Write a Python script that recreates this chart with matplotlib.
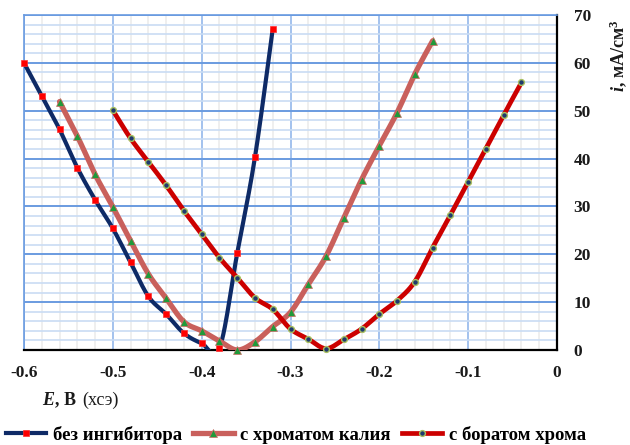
import numpy as np
import matplotlib
matplotlib.use("Agg")
import matplotlib.pyplot as plt
from matplotlib.lines import Line2D
from matplotlib.ticker import MultipleLocator, FuncFormatter
from matplotlib.offsetbox import TextArea, HPacker, AnnotationBbox

plt.rcParams["font.family"] = ["Liberation Serif", "DejaVu Serif"]
plt.rcParams["mathtext.fontset"] = "custom"
plt.rcParams["mathtext.rm"] = "Liberation Serif"
plt.rcParams["mathtext.it"] = "Liberation Serif:italic"
plt.rcParams["mathtext.bf"] = "Liberation Serif:bold"
plt.rcParams["mathtext.bfit"] = "Liberation Serif:bold:italic"

# Potential, V (vs. silver chloride electrode) and current density, mA/cm^3
e_blank = [-0.60, -0.58, -0.56, -0.54, -0.52, -0.50, -0.48, -0.46, -0.44,
           -0.42, -0.40, -0.38, -0.36, -0.34, -0.32]
i_blank = [60.0, 53.1, 46.1, 38.1, 31.4, 25.4, 18.3, 11.2, 7.5,
           3.5, 1.4, 0.35, 20.2, 40.3, 67.1]

e_chromate = [-0.56, -0.54, -0.52, -0.50, -0.48, -0.46, -0.44, -0.42, -0.40,
              -0.38, -0.36, -0.34, -0.32, -0.30, -0.28, -0.26, -0.24, -0.22,
              -0.20, -0.18, -0.16, -0.14]
i_chromate = [51.9, 44.7, 36.7, 29.9, 22.8, 15.9, 10.8, 5.9, 4.0,
              1.9, 0.0, 1.7, 4.9, 7.9, 13.7, 19.6, 27.6, 35.6,
              42.7, 49.6, 57.7, 64.6]

e_borate = [-0.50, -0.48, -0.46, -0.44, -0.42, -0.40, -0.38, -0.36, -0.34,
            -0.32, -0.30, -0.28, -0.26, -0.24, -0.22, -0.20, -0.18, -0.16,
            -0.14, -0.12, -0.10, -0.08, -0.06, -0.04]
i_borate = [50.1, 44.2, 39.3, 34.4, 29.1, 24.2, 19.3, 15.1, 10.9,
            8.5, 4.4, 2.3, 0.3, 2.2, 4.4, 7.5, 10.3, 14.3,
            21.4, 28.2, 35.2, 42.1, 49.1, 55.9]

labels = ["без ингибитора", "с хроматом калия", "с боратом хрома"]
x_ticks = [-0.6, -0.5, -0.4, -0.3, -0.2, -0.1, 0.0]
y_ticks = [0, 10, 20, 30, 40, 50, 60, 70]


def smooth(xs, ys, n=24):
    """Cubic Bezier smoothing through the points (spreadsheet-style)."""
    p = np.column_stack([xs, ys]).astype(float)
    out = []
    t = np.linspace(0, 1, n)[:, None]
    for k in range(len(p) - 1):
        p0 = p[k - 1] if k > 0 else p[k]
        p1, p2 = p[k], p[k + 1]
        p3 = p[k + 2] if k + 2 < len(p) else p[k + 1]
        c1 = p1 + (p2 - p0) / 6.0
        c2 = p2 - (p3 - p1) / 6.0
        seg = ((1 - t) ** 3) * p1 + 3 * ((1 - t) ** 2) * t * c1 \
            + 3 * (1 - t) * t ** 2 * c2 + t ** 3 * p2
        out.append(seg if k == 0 else seg[1:])
    seg = np.vstack(out)
    return seg[:, 0], seg[:, 1]


fig = plt.figure(figsize=(6.3, 4.45), dpi=100)
ax = fig.add_axes([24 / 630, 1 - 350 / 445, 533 / 630, 335 / 445])

ax.set_xlim(-0.6, 0.0)
ax.set_ylim(0, 70)
ax.xaxis.set_minor_locator(MultipleLocator(0.02))
ax.yaxis.set_minor_locator(MultipleLocator(2))
ax.set_xticks(x_ticks)
ax.set_yticks(y_ticks)

# grid: horizontal lines bluer than vertical ones
ax.grid(axis="y", which="minor", color="#c9dcf4", lw=1.2, zorder=0)
ax.grid(axis="x", which="minor", color="#ececec", lw=1.2, zorder=0)
ax.grid(axis="y", which="major", color="#6a9be0", lw=1.4, zorder=0)
ax.grid(axis="x", which="major", color="#a3c2ee", lw=1.4, zorder=0)
ax.set_axisbelow(True)

for side in ("left", "top"):
    ax.spines[side].set_color("#6a9be0")
    ax.spines[side].set_linewidth(1.2)
for side in ("right", "bottom"):
    ax.spines[side].set_color("black")
    ax.spines[side].set_linewidth(1.6)

ax.yaxis.tick_right()
ax.tick_params(which="both", length=0)
ax.tick_params(axis="x", pad=11)
ax.tick_params(axis="y", pad=12)
tick_font = dict(family="Liberation Serif", weight="bold", size=12.5)
ax.xaxis.set_major_formatter(FuncFormatter(lambda v, p: "0" if abs(v) < 1e-9 else f"{v:.1f}"))
for lab in ax.get_xticklabels() + ax.get_yticklabels():
    lab.set_fontproperties(tick_font)
    lab.set_color("#1a1a1a")

styles = [
    dict(color="#0e2a66", lw=3.0, marker="s", ms=4.6, mfc="#ff0000", mec="#ff3030", mew=0.5),
    dict(color="#c9605c", lw=3.8, marker="^", ms=5.6, mfc="#1f9a3a", mec="#d06a66", mew=0.5),
    dict(color="#cc0000", lw=3.4, marker="o", ms=4.2, mfc="#1f3a6e", mec="#a8c060", mew=1.0),
]
series = [(e_blank, i_blank), (e_chromate, i_chromate), (e_borate, i_borate)]
handles = []
for (xs, ys), st, lab in zip(series, styles, labels):
    sx, sy = smooth(xs, ys)
    ax.plot(sx, sy, color=st["color"], lw=st["lw"], solid_capstyle="round", zorder=3)
    ax.plot(xs, ys, ls="none", marker=st["marker"], ms=st["ms"], mfc=st["mfc"],
            mec=st["mec"], mew=st["mew"], zorder=4, clip_on=False)
    handles.append(Line2D([], [], color=st["color"], lw=st["lw"], marker=st["marker"],
                          ms=st["ms"], mfc=st["mfc"], mec=st["mec"], mew=st["mew"]))

# axis titles
fig.text(618 / 630, 1 - 56 / 445, r"$\mathbfit{i}$, мА/см$^{\mathbf{3}}$",
         rotation=90, ha="center", va="center", fontsize=13, fontweight="bold",
         color="#1a1a1a")
e_label = HPacker(children=[
    TextArea(r"$\mathbfit{E}$, В", textprops=dict(fontsize=13, fontweight="bold",
                                                  color="#1a1a1a")),
    TextArea("(хсэ)", textprops=dict(fontsize=13, color="#1a1a1a")),
], align="baseline", pad=0, sep=4)
fig.add_artist(AnnotationBbox(e_label, (42 / 630, 1 - 400 / 445), xycoords="figure fraction",
                              box_alignment=(0, 0.5), frameon=False, pad=0))

fig.legend(handles, labels, loc="center", bbox_to_anchor=(296 / 630, 1 - 435 / 445),
           ncol=3, frameon=False, numpoints=1, handlelength=2.15, handletextpad=0.35,
           columnspacing=0.6, borderaxespad=0, borderpad=0,
           prop=dict(family="Liberation Serif", weight="bold", size=13.5))

fig.savefig("out.png", dpi=100)
